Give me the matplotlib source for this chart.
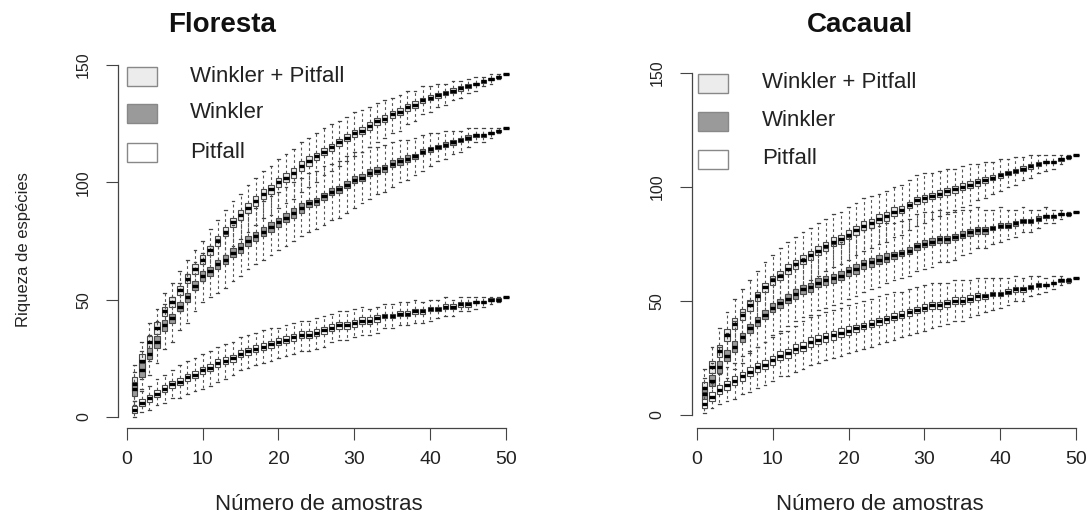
import matplotlib
matplotlib.use("Agg")
import matplotlib.pyplot as plt
from matplotlib.patches import Rectangle

plt.rcParams['font.family'] = ['Liberation Sans', 'DejaVu Sans']

amostras = list(range(1, 51))
grupos = ["Winkler + Pitfall", "Winkler", "Pitfall"]
cores = ["#ececec", "#9a9a9a", "#ffffff"]

# Floresta - medianas
flo_wp_med = [14, 24, 32, 38, 45, 49, 54, 59, 63, 67, 71, 75, 79, 83, 86, 89, 92, 95, 97, 100,
              102, 104, 107, 109, 111, 113, 115, 117, 119, 121, 122, 124, 126, 127, 129, 130, 132, 133, 135, 136,
              137, 138, 139, 140, 141, 142, 143, 144, 145, 146]
flo_w_med = [12, 20, 27, 32, 39, 42, 47, 51, 56, 60, 62, 65, 67, 70, 72, 75, 77, 79, 81, 83,
             85, 87, 89, 91, 92, 94, 96, 97, 99, 101, 102, 104, 105, 106, 108, 109, 110, 111, 113, 114,
             115, 116, 117, 118, 119, 120, 120, 121, 122, 123]
flo_p_med = [3, 6, 8, 10, 12, 14, 15, 17, 18, 20, 21, 23, 24, 25, 27, 28, 29, 30, 31, 32,
             33, 34, 35, 35, 36, 37, 38, 39, 39, 40, 41, 41, 42, 43, 43, 44, 44, 45, 45, 46,
             46, 47, 47, 48, 48, 49, 49, 50, 50, 51]

# Cacaual - medianas
cac_wp_med = [12, 21, 28, 35, 40, 44, 48, 52, 56, 59, 61, 64, 66, 68, 70, 72, 74, 76, 77, 79,
              81, 83, 84, 86, 87, 89, 90, 92, 94, 95, 96, 97, 98, 99, 100, 101, 102, 103, 104, 105,
              106, 107, 108, 109, 110, 111, 111, 112, 113, 114]
cac_w_med = [9, 15, 21, 26, 30, 34, 38, 41, 44, 47, 49, 51, 53, 55, 56, 58, 59, 60, 61, 63,
             64, 66, 67, 68, 69, 70, 71, 72, 74, 75, 76, 77, 77, 78, 79, 80, 81, 81, 82, 83,
             83, 84, 85, 85, 86, 87, 87, 88, 88, 89]
cac_p_med = [5, 8, 11, 13, 15, 17, 19, 21, 22, 24, 26, 27, 29, 30, 32, 33, 34, 35, 36, 37,
             38, 39, 40, 41, 42, 43, 44, 45, 46, 47, 48, 48, 49, 50, 50, 51, 52, 52, 53, 53,
             54, 55, 55, 56, 57, 57, 58, 59, 59, 60]

# amplitude interquartil
flo_wp_iqr = [6, 6, 5, 5, 4, 4, 4, 4, 4, 4, 4, 4, 4, 4, 4, 4, 4, 4, 4, 4, 4, 4, 4, 4, 3,
              3, 3, 3, 3, 3, 3, 3, 3, 3, 3, 3, 3, 3, 2, 2, 2, 2, 2, 2, 2, 1, 1, 1, 1, 0]
flo_w_iqr = [6, 6, 5, 5, 5, 4, 4, 4, 4, 4, 4, 4, 4, 4, 4, 4, 4, 4, 4, 4, 4, 4, 4, 3, 3,
             3, 3, 3, 3, 3, 3, 3, 3, 3, 3, 3, 3, 2, 2, 2, 2, 2, 2, 2, 2, 1, 1, 1, 1, 0]
flo_p_iqr = [3, 3, 3, 3, 3, 3, 3, 3, 3, 3, 3, 3, 3, 3, 3, 3, 3, 3, 3, 3, 3, 3, 3, 3, 3,
             3, 3, 3, 3, 3, 3, 3, 3, 2, 2, 2, 2, 2, 2, 2, 2, 2, 2, 2, 2, 1, 1, 1, 1, 0]
cac_wp_iqr = [5, 5, 5, 5, 5, 5, 5, 4, 4, 4, 4, 4, 4, 4, 4, 4, 4, 4, 4, 4, 4, 4, 4, 4, 4,
              4, 3, 3, 3, 3, 3, 3, 3, 3, 3, 3, 3, 3, 2, 2, 2, 2, 2, 2, 2, 1, 1, 1, 1, 0]
cac_w_iqr = [5, 5, 5, 5, 5, 4, 4, 4, 4, 4, 4, 4, 4, 4, 4, 4, 4, 4, 4, 4, 4, 4, 4, 4, 4,
             3, 3, 3, 3, 3, 3, 3, 3, 3, 3, 3, 3, 3, 2, 2, 2, 2, 2, 2, 2, 1, 1, 1, 1, 0]
cac_p_iqr = [4, 4, 4, 4, 4, 4, 4, 4, 4, 4, 4, 4, 4, 4, 4, 4, 4, 4, 4, 4, 3, 3, 3, 3, 3,
             3, 3, 3, 3, 3, 3, 3, 3, 3, 3, 3, 3, 2, 2, 2, 2, 2, 2, 2, 2, 1, 1, 1, 1, 0]

# bigodes: distancia da mediana ate o extremo superior / inferior
flo_wp_up = [8, 8, 8, 8, 8, 8, 8, 8, 8, 8, 9, 9, 9, 9, 9, 10, 10, 10, 10, 10, 10, 10, 10, 10, 10,
             10, 10, 9, 9, 9, 9, 8, 8, 8, 7, 7, 7, 6, 6, 5, 5, 4, 4, 3, 3, 3, 2, 2, 1, 0]
flo_wp_dn = [7, 8, 8, 8, 8, 8, 9, 9, 9, 9, 9, 9, 10, 10, 10, 10, 10, 10, 11, 11, 11, 11, 11, 11, 11,
             10, 10, 10, 10, 10, 9, 9, 9, 8, 8, 8, 7, 7, 6, 6, 5, 5, 4, 4, 3, 3, 2, 2, 1, 0]
flo_w_up = [7, 8, 8, 9, 9, 9, 10, 10, 10, 10, 11, 11, 11, 12, 12, 12, 12, 13, 13, 13, 13, 13, 13, 13, 13,
            13, 12, 12, 12, 12, 11, 11, 10, 10, 9, 9, 8, 8, 7, 7, 6, 6, 5, 4, 4, 3, 3, 2, 1, 0]
flo_w_dn = [7, 8, 9, 9, 10, 10, 10, 11, 11, 11, 11, 12, 12, 12, 12, 12, 12, 12, 12, 12, 12, 12, 12, 12, 12,
            12, 12, 12, 12, 12, 11, 11, 10, 10, 10, 9, 9, 8, 8, 7, 6, 6, 5, 5, 4, 3, 3, 2, 1, 0]
flo_p_up = [4, 5, 5, 6, 6, 6, 7, 7, 7, 7, 7, 7, 7, 7, 7, 7, 7, 7, 7, 6, 6, 6, 6, 6, 6,
            6, 6, 6, 6, 6, 6, 5, 5, 5, 5, 5, 5, 5, 4, 4, 4, 4, 3, 3, 3, 2, 2, 1, 1, 0]
flo_p_dn = [3, 4, 5, 5, 6, 6, 7, 7, 7, 8, 8, 8, 8, 7, 7, 7, 7, 7, 7, 7, 7, 7, 7, 7, 7,
            7, 6, 6, 6, 6, 6, 6, 6, 5, 5, 5, 5, 5, 5, 5, 4, 4, 4, 3, 3, 3, 2, 2, 1, 0]
cac_wp_up = [8, 9, 10, 10, 11, 11, 11, 11, 11, 11, 12, 12, 12, 12, 12, 12, 12, 12, 12, 12, 12, 12, 12, 11, 11,
             11, 11, 11, 11, 11, 10, 10, 10, 9, 9, 9, 8, 8, 7, 7, 6, 6, 5, 5, 4, 3, 3, 2, 1, 0]
cac_wp_dn = [7, 8, 9, 10, 10, 11, 11, 11, 11, 11, 11, 11, 11, 11, 11, 11, 11, 11, 11, 11, 11, 11, 11, 11, 11,
             11, 11, 11, 11, 11, 10, 10, 10, 10, 9, 9, 8, 8, 7, 7, 6, 6, 5, 5, 4, 4, 3, 2, 1, 0]
cac_w_up = [7, 8, 9, 10, 11, 11, 12, 12, 12, 13, 13, 13, 13, 14, 14, 14, 14, 15, 15, 15, 15, 15, 15, 15, 15,
            14, 14, 14, 14, 14, 13, 13, 12, 12, 11, 10, 10, 9, 8, 8, 7, 6, 6, 5, 4, 4, 3, 2, 1, 0]
cac_w_dn = [6, 8, 9, 10, 10, 11, 11, 11, 12, 12, 12, 12, 12, 12, 12, 12, 12, 12, 12, 12, 12, 12, 12, 12, 11,
            11, 11, 11, 11, 11, 11, 10, 10, 10, 9, 9, 8, 8, 7, 7, 6, 6, 5, 5, 4, 3, 3, 2, 1, 0]
cac_p_up = [5, 6, 7, 8, 8, 9, 9, 9, 10, 10, 10, 10, 10, 11, 11, 11, 11, 11, 11, 11, 11, 11, 11, 11, 11,
            11, 10, 10, 10, 10, 10, 10, 9, 9, 9, 8, 8, 8, 7, 7, 6, 6, 5, 5, 4, 3, 3, 2, 1, 0]
cac_p_dn = [4, 5, 6, 7, 8, 8, 9, 9, 9, 9, 9, 10, 10, 10, 10, 10, 10, 10, 10, 10, 10, 10, 10, 10, 10,
            10, 10, 10, 10, 10, 10, 9, 9, 9, 9, 8, 8, 7, 7, 6, 6, 5, 5, 4, 4, 3, 3, 2, 1, 0]

floresta = [(flo_wp_med, flo_wp_iqr, flo_wp_up, flo_wp_dn),
            (flo_w_med, flo_w_iqr, flo_w_up, flo_w_dn),
            (flo_p_med, flo_p_iqr, flo_p_up, flo_p_dn)]
cacaual = [(cac_wp_med, cac_wp_iqr, cac_wp_up, cac_wp_dn),
           (cac_w_med, cac_w_iqr, cac_w_up, cac_w_dn),
           (cac_p_med, cac_p_iqr, cac_p_up, cac_p_dn)]

W, H = 1087, 514
fig = plt.figure(figsize=(W / 100, H / 100), dpi=100)


def px_box(left, right, top, bottom):
    return [left / W, 1 - bottom / H, (right - left) / W, (bottom - top) / H]


def montar_stats(med, iqr, up, dn):
    st = []
    for m, q, u, d in zip(med, iqr, up, dn):
        st.append({"med": m, "q1": m - q / 2, "q3": m + q / 2,
                   "whislo": m - d, "whishi": m + u})
    return st


def painel(ax, series, xlim, ylim):
    for (med, iqr, up, dn), cor in zip(series, cores):
        ax.bxp(montar_stats(med, iqr, up, dn), positions=amostras, widths=0.72,
               showfliers=False, patch_artist=True, manage_ticks=False,
               boxprops=dict(facecolor=cor, edgecolor="#4a4a4a", linewidth=0.8),
               medianprops=dict(color="black", linewidth=2.4),
               whiskerprops=dict(color="#555555", linewidth=0.8, linestyle=(0, (2.5, 2.5))),
               capprops=dict(color="#444444", linewidth=0.9))
    ax.set_xlim(*xlim)
    ax.set_ylim(*ylim)
    for s in ["top", "right"]:
        ax.spines[s].set_visible(False)
    ax.spines["left"].set_bounds(0, 150)
    ax.spines["bottom"].set_bounds(0, 50)
    for s in ["left", "bottom"]:
        ax.spines[s].set_color("#444444")
        ax.spines[s].set_linewidth(0.9)
    ax.set_xticks([0, 10, 20, 30, 40, 50])
    ax.set_yticks([0, 50, 100, 150])
    ax.set_yticklabels(["0", "50", "100", "150"], rotation=90, va="center")
    ax.tick_params(axis="both", length=8.5, width=0.8, color="#444444", labelcolor="#222222")
    ax.tick_params(axis="x", labelsize=14, pad=8)
    ax.tick_params(axis="y", labelsize=11.5, pad=11)


def legenda(x0, ys, xt):
    for y, cor, nome in zip(ys, cores, grupos):
        fig.patches.append(Rectangle((x0 / W, 1 - (y + 9.5) / H), 30 / W, 19 / H,
                                     transform=fig.transFigure, facecolor=cor,
                                     edgecolor="#888888", linewidth=1.0))
        fig.text(xt / W, 1 - y / H, nome, fontsize=16, color="#222222", va="center", ha="left")


ax1 = fig.add_axes(px_box(118, 525, 53, 428))
painel(ax1, floresta, (-1.14, 52.48), (-4.69, 155.1))
ax2 = fig.add_axes(px_box(691.7, 1087, 61.3, 428.3))
painel(ax2, cacaual, (-0.66, 51.42), (-5.83, 155.0))

legenda(127, [76, 113, 152], 190)
legenda(698, [83, 121, 159], 762)

fig.text(222 / W, 1 - 25 / H, "Floresta", fontsize=20, fontweight="bold", ha="center", va="center", color="#111111")
fig.text(860 / W, 1 - 25 / H, "Cacaual", fontsize=20, fontweight="bold", ha="center", va="center", color="#111111")
fig.text(319 / W, 1 - 504 / H, "Número de amostras", fontsize=16, ha="center", va="center", color="#222222")
fig.text(880 / W, 1 - 504 / H, "Número de amostras", fontsize=16, ha="center", va="center", color="#222222")
fig.text(24 / W, 1 - 250 / H, "Riqueza de espécies", fontsize=12, rotation=90, ha="center", va="center", color="#222222")

fig.savefig("out.png", dpi=100)
